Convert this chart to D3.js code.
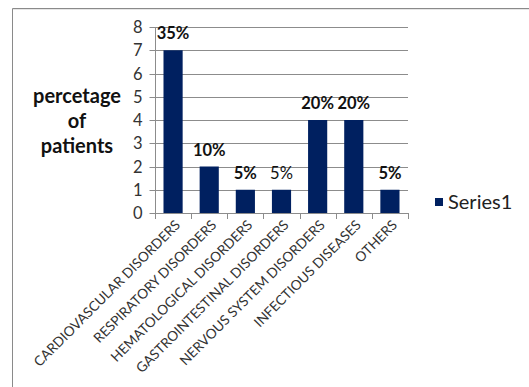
<!DOCTYPE html>
<html><head><meta charset="utf-8">
<script src="https://cdn.jsdelivr.net/npm/d3@7"></script>
<style>body{margin:0;background:#fff}svg{display:block}</style>
</head><body>
<script>
const categories = ["CARDIOVASCULAR DISORDERS","RESPIRATORY DISORDERS","HEMATOLOGICAL DISORDERS","GASTROINTESTINAL DISORDERS","NERVOUS SYSTEM DISORDERS","INFECTIOUS DISEASES","OTHERS"];
const values = [7,2,1,1,4,4,1];
const labels = ["35%","10%","5%","5%","20%","20%","5%"];
const labelBold = [true,true,true,false,true,true,true];
const yTicks = [0,1,2,3,4,5,6,7,8];
const seriesName = "Series1";
const titleLines = ["percetage","of","patients"];

const W=529,H=387;
const svg=d3.select("body").append("svg").attr("width",W).attr("height",H);
const font="Lato, 'Open Sans', sans-serif";
// frame
svg.append("line").attr("x1",12.5).attr("x2",W).attr("y1",8.5).attr("y2",8.5).attr("stroke","#8a8a8a");
svg.append("line").attr("x1",12.5).attr("x2",W).attr("y1",9.5).attr("y2",9.5).attr("stroke","#e6e6e6");
svg.append("line").attr("x1",12.5).attr("x2",12.5).attr("y1",8.5).attr("y2",H).attr("stroke","#8a8a8a");

const x=d3.scaleBand().domain(categories).range([155,408]).paddingInner(0.47).paddingOuter(0.235);
const y=d3.scaleLinear().domain([0,8]).range([213,27]);

// gridlines
svg.append("g").selectAll("line").data(yTicks.slice(1)).join("line")
  .attr("x1",155).attr("x2",408).attr("y1",d=>Math.round(y(d))+0.5).attr("y2",d=>Math.round(y(d))+0.5)
  .attr("stroke","#8c8c8c");

// y axis
const ya=svg.append("g").attr("transform","translate(155.5,0)")
  .call(d3.axisLeft(y).tickValues(yTicks).tickSize(6).tickPadding(7).tickFormat(d3.format("d")));
ya.select(".domain").attr("stroke","#8c8c8c").attr("d","M0,"+y(8)+"V"+(y(0)+0.5));
ya.selectAll(".tick line").attr("stroke","#8c8c8c");
ya.selectAll(".tick").attr("transform",d=>"translate(0,"+(Math.round(y(d))+0.5)+")");
ya.selectAll("text").attr("font-family",font).attr("font-size",16.5).attr("fill","#333");

// x axis
const step=x.step();
const bounds=d3.range(categories.length+1).map(i=>155+i*step);
const xg=svg.append("g");
xg.append("line").attr("x1",155).attr("x2",408).attr("y1",213.5).attr("y2",213.5).attr("stroke","#8c8c8c");
xg.selectAll(".tk").data(bounds).join("line").attr("class","tk")
  .attr("x1",d=>Math.round(d)+0.5).attr("x2",d=>Math.round(d)+0.5).attr("y1",213).attr("y2",219).attr("stroke","#8c8c8c");
xg.selectAll("text").data(categories).join("text")
  .attr("transform",d=>"translate("+(x(d)+x.bandwidth()/2+8)+",226) rotate(-45)")
  .attr("text-anchor","end").attr("font-family",font).attr("font-size",13.7).attr("fill","#333")
  .text(d=>d);

// bars
svg.append("g").selectAll("rect").data(values).join("rect")
  .attr("x",(d,i)=>x(categories[i])).attr("width",x.bandwidth())
  .attr("y",d=>y(d)).attr("height",d=>y(0)-y(d)).attr("fill","#002060");

// data labels
svg.append("g").selectAll("text").data(values).join("text")
  .attr("x",(d,i)=>x(categories[i])+x.bandwidth()/2).attr("y",d=>y(d)-11)
  .attr("text-anchor","middle").attr("font-family",font).attr("font-size",16.5)
  .attr("font-weight",(d,i)=>labelBold[i]?"bold":"normal").attr("fill","#111")
  .text((d,i)=>labels[i]);

// y title
svg.append("text").attr("font-family",font).attr("font-size",20).attr("font-weight","bold")
  .attr("text-anchor","middle").attr("fill","#111")
  .selectAll("tspan").data(titleLines).join("tspan")
  .attr("x",77).attr("y",(d,i)=>103+i*25).text(d=>d);

// legend
svg.append("rect").attr("x",435).attr("y",198).attr("width",8).attr("height",8).attr("fill","#002060");
svg.append("text").attr("x",448).attr("y",208.5).attr("font-family",font).attr("font-size",20).attr("fill","#222").text(seriesName);
</script>
</body></html>
